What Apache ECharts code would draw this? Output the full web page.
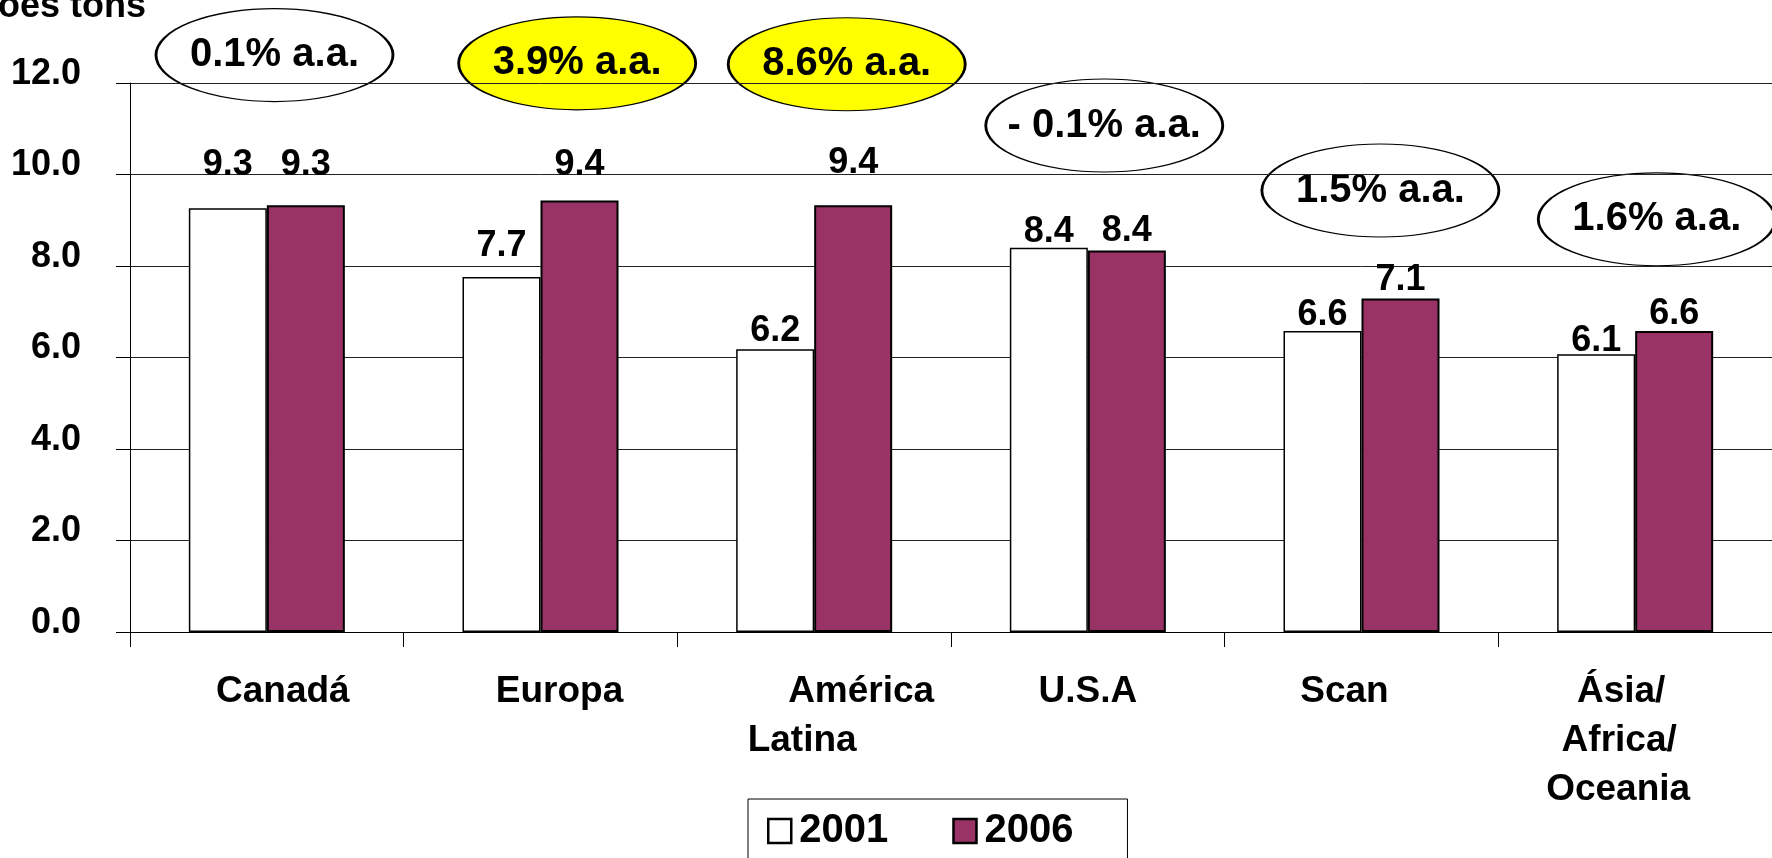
<!DOCTYPE html>
<html><head><meta charset="utf-8">
<script src="https://cdn.jsdelivr.net/npm/echarts@6/dist/echarts.min.js"></script>
<style>html,body{margin:0;padding:0;background:#fff;overflow:hidden}#c{width:1772px;height:858px}</style>
</head><body><div id="c"></div>
<script>
// ---- data ----
const categories = ['Canadá', 'Europa', 'América\nLatina', 'U.S.A', 'Scan', 'Ásia/\nAfrica/\nOceania'];
const seriesNames = ['2001', '2006'];
const values2001 = [9.26, 7.76, 6.18, 8.40, 6.58, 6.07];
const values2006 = [9.33, 9.43, 9.33, 8.34, 7.29, 6.58];
const labels2001 = ['9.3', '7.7', '6.2', '8.4', '6.6', '6.1'];
const labels2006 = ['9.3', '9.4', '9.4', '8.4', '7.1', '6.6'];
const growthLabels = ['0.1% a.a.', '3.9% a.a.', '8.6% a.a.', '- 0.1% a.a.', '1.5% a.a.', '1.6% a.a.'];
const growthHighlighted = [false, true, true, false, false, false];
const yAxisName = 'Milhões tons';

// ---- layout / styling (not data) ----
const FONT = "'Liberation Sans', Arial, sans-serif";
const growthPlacement = { x: [0.528, 1.634, 2.619, 3.560, 4.569, 5.579], y: [12.61, 12.43, 12.41, 11.07, 9.65, 9.02] };
const labelDist2001 = [25, 13, 0, -2, -2, -5];
const labelDist2006 = [22, 17, 24, 1, 0, -1];
const catLineShift = [[16], [19], [47, -12], [0], [-17], [-14, -16, -17]];

const rich = {};
catLineShift.forEach((arr, i) => arr.forEach((s, j) => {
  rich['s' + i + '_' + j] = {
    align: 'center', fontSize: 37, fontWeight: 'bold', fontFamily: FONT, color: '#000', lineHeight: 49,
    padding: s >= 0 ? [0, 0, 0, 2 * s] : [0, -2 * s, 0, 0]
  };
}));

const chart = echarts.init(document.getElementById('c'), null, { renderer: 'canvas' });
chart.setOption({
  animation: false,
  backgroundColor: '#fff',
  title: {
    text: yAxisName, right: 1626, top: -11, padding: 0,
    textStyle: { fontFamily: FONT, fontWeight: 'bold', fontSize: 36, color: '#000' }
  },
  legend: {
    data: seriesNames, left: 748, top: 799, padding: [12, 54, 40, 19],
    itemWidth: 23, itemHeight: 24, itemGap: 64, icon: 'rect', selectedMode: false,
    borderColor: '#000', borderWidth: 1,
    itemStyle: { borderColor: '#000', borderWidth: 2.5 },
    textStyle: { fontFamily: FONT, fontWeight: 'bold', fontSize: 40, color: '#000', padding: [0, 0, 0, 3] }
  },
  grid: { left: 130, top: 83, width: 1652, height: 549 },
  xAxis: [{
    type: 'category', data: categories,
    axisLine: { lineStyle: { color: '#000', width: 1 } },
    axisTick: { show: true, length: 15, lineStyle: { color: '#000' } },
    splitLine: { show: false },
    axisLabel: {
      interval: 0, margin: 35, color: '#000', fontSize: 37, fontWeight: 'bold', fontFamily: FONT, lineHeight: 49,
      formatter: (v, idx) => v.split('\n').map((line, j) => '{s' + idx + '_' + j + '|' + line + '}').join('\n'),
      rich: rich
    }
  }, { type: 'value', min: 0, max: 6, show: false }],
  yAxis: {
    type: 'value', min: 0, max: 12, interval: 2,
    axisLine: { show: true, lineStyle: { color: '#000', width: 1 } },
    axisTick: { show: true, length: 14, lineStyle: { color: '#000' } },
    axisLabel: {
      formatter: v => '{t|' + v.toFixed(1) + '}', margin: 49, color: '#000', fontSize: 36, fontWeight: 'bold', fontFamily: FONT,
      rich: { t: { fontSize: 36, fontWeight: 'bold', fontFamily: FONT, color: '#000', lineHeight: 36, padding: [0, 0, 18, 0] } }
    },
    splitLine: { lineStyle: { color: '#222', width: 1 } }
  },
  series: [{
    name: seriesNames[0], type: 'bar', barWidth: 78, barGap: '0%',
    itemStyle: { color: '#ffffff', borderColor: '#000', borderWidth: 1.5 },
    data: values2001.map((v, i) => ({ value: v, label: { distance: labelDist2001[i] } })),
    label: {
      show: true, position: 'top', formatter: p => labels2001[p.dataIndex],
      fontSize: 36, fontWeight: 'bold', fontFamily: FONT, color: '#000'
    }
  }, {
    name: seriesNames[1], type: 'bar', barWidth: 78, barGap: '0%',
    itemStyle: { color: '#993366', borderColor: '#000', borderWidth: 2 },
    data: values2006.map((v, i) => ({ value: v, label: { distance: labelDist2006[i] } })),
    label: {
      show: true, position: 'top', formatter: p => labels2006[p.dataIndex],
      fontSize: 36, fontWeight: 'bold', fontFamily: FONT, color: '#000'
    }
  }, {
    type: 'scatter', xAxisIndex: 1, yAxisIndex: 0, z: -1, clip: false, silent: true,
    symbol: 'path://M0,50A50,50 0 1 1 100,50A50,50 0 1 1 0,50Z', symbolSize: [237, 93],
    itemStyle: { borderColor: '#000', borderWidth: 1.8, opacity: 1 },
    data: growthLabels.map((t, i) => ({
      value: [growthPlacement.x[i], growthPlacement.y[i]],
      itemStyle: { color: growthHighlighted[i] ? '#FFFF00' : 'rgba(255,255,255,0)' }
    })),
    label: {
      show: true, position: 'inside', formatter: p => growthLabels[p.dataIndex],
      fontSize: 40, fontWeight: 'bold', fontFamily: FONT, color: '#000'
    }
  }]
});
</script></body></html>
